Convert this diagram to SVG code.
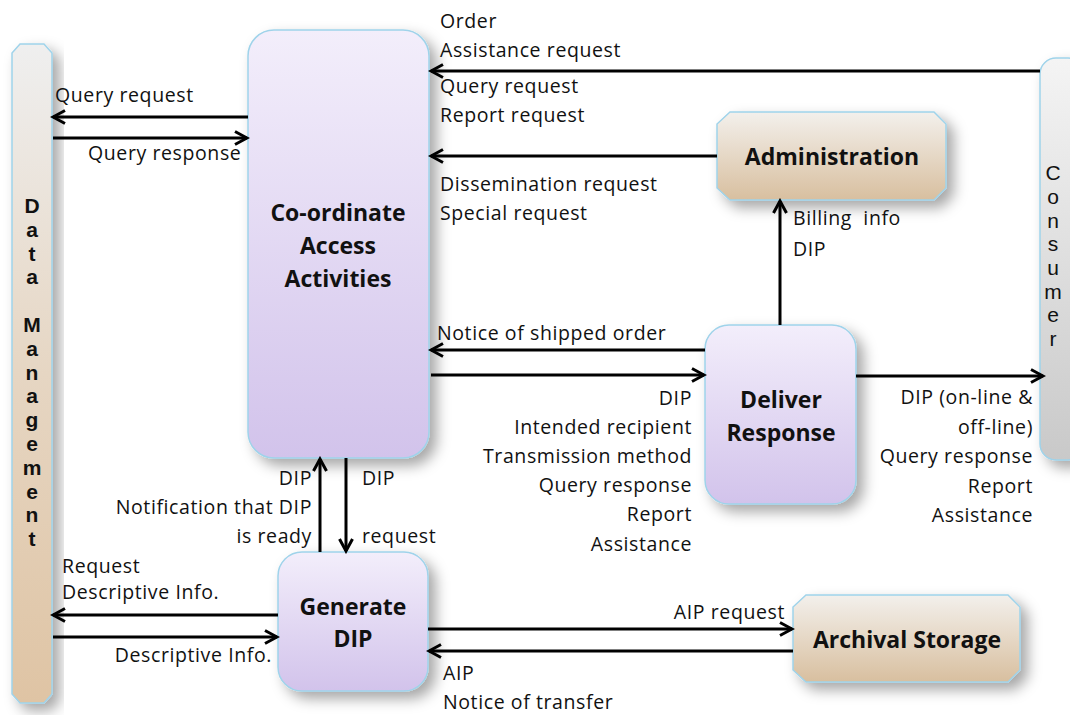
<svg xmlns="http://www.w3.org/2000/svg" width="1070" height="715" viewBox="0 0 1070 715">
<defs>
  <linearGradient id="purple" x1="0" y1="0" x2="0" y2="1">
    <stop offset="0" stop-color="#f3eefb"/>
    <stop offset="1" stop-color="#d2c3eb"/>
  </linearGradient>
  <linearGradient id="tan" x1="0" y1="0" x2="0" y2="1">
    <stop offset="0" stop-color="#f3f0ec"/>
    <stop offset="1" stop-color="#d8bf9f"/>
  </linearGradient>
  <linearGradient id="dm" x1="0" y1="0" x2="0" y2="1">
    <stop offset="0" stop-color="#efefef"/>
    <stop offset="0.5" stop-color="#e6d6c3"/>
    <stop offset="1" stop-color="#dfc4a4"/>
  </linearGradient>
  <linearGradient id="cons" x1="0" y1="0" x2="0" y2="1">
    <stop offset="0" stop-color="#f4f4f4"/>
    <stop offset="1" stop-color="#c9c9c9"/>
  </linearGradient>
  <filter id="sh" x="-30%" y="-30%" width="160%" height="160%">
    <feDropShadow dx="7" dy="7" stdDeviation="7" flood-color="#000" flood-opacity="0.35"/>
  </filter>
  <marker id="ah" markerUnits="userSpaceOnUse" markerWidth="18" markerHeight="18" refX="15" refY="9" orient="auto">
    <path d="M3,2.5 L15,9 L3,15.5" fill="none" stroke="#000" stroke-width="3"/>
  </marker>
  <style>
    .lbl{font-family:"Open Sans","Liberation Sans",sans-serif;font-size:19.5px;letter-spacing:0.6px;fill:#111}
    .r{text-anchor:end}
    .node{font-family:"Open Sans","Liberation Sans",sans-serif;font-size:23px;font-weight:bold;fill:#111;text-anchor:middle}
    .vt{font-family:"Liberation Sans",Arial,sans-serif;font-size:21px;fill:#111;text-anchor:middle}
    .box{stroke:#9fd3ea;stroke-width:1.5;filter:url(#sh)}
    .c{stroke:#000;stroke-width:3;fill:none}
  </style>
</defs>
<rect width="1070" height="715" fill="#fff"/>

<g id="data-management">
  <path class="box" fill="url(#dm)" d="M20,44 L44,44 L52,53 L52,694 L44,703 L20,703 L12,694 L12,53 Z"/>
  <text class="vt" style="font-weight:bold" x="32"><tspan x="32" y="213">D</tspan><tspan x="32" y="237">a</tspan><tspan x="32" y="261">t</tspan><tspan x="32" y="284">a</tspan><tspan x="32" y="332">M</tspan><tspan x="32" y="356">a</tspan><tspan x="32" y="380">n</tspan><tspan x="32" y="403">a</tspan><tspan x="32" y="427">g</tspan><tspan x="32" y="451">e</tspan><tspan x="32" y="475">m</tspan><tspan x="32" y="499">e</tspan><tspan x="32" y="522">n</tspan><tspan x="32" y="546">t</tspan></text>
</g>

<g id="consumer">
  <rect class="box" fill="url(#cons)" x="1040" y="58" width="44" height="402" rx="16"/>
  <text class="vt" x="1053"><tspan x="1053" y="180">C</tspan><tspan x="1053" y="204">o</tspan><tspan x="1053" y="228">n</tspan><tspan x="1053" y="251">s</tspan><tspan x="1053" y="275">u</tspan><tspan x="1053" y="299">m</tspan><tspan x="1053" y="322">e</tspan><tspan x="1053" y="346">r</tspan></text>
</g>

<g id="coordinate-access-activities">
  <rect class="box" fill="url(#purple)" x="248" y="30" width="181" height="428" rx="26"/>
  <text class="node"><tspan x="338" y="221">Co-ordinate</tspan><tspan x="338" y="254">Access</tspan><tspan x="338" y="287">Activities</tspan></text>
</g>

<g id="administration">
  <path class="box" fill="url(#tan)" d="M730,112 L934,112 L946,124 L946,188 L934,200 L730,200 L717,188 L717,124 Z"/>
  <text class="node" x="832" y="165">Administration</text>
</g>

<g id="deliver-response">
  <rect class="box" fill="url(#purple)" x="705" y="325" width="151" height="179" rx="24"/>
  <text class="node"><tspan x="781" y="408">Deliver</tspan><tspan x="781" y="441">Response</tspan></text>
</g>

<g id="generate-dip">
  <rect class="box" fill="url(#purple)" x="278" y="552" width="150" height="139" rx="24"/>
  <text class="node"><tspan x="353" y="615">Generate</tspan><tspan x="353" y="647">DIP</tspan></text>
</g>

<g id="archival-storage">
  <path class="box" fill="url(#tan)" d="M806,595 L1008,595 L1020,607 L1020,670 L1008,682 L806,682 L793,670 L793,607 Z"/>
  <text class="node" x="907" y="648">Archival Storage</text>
</g>

<g id="connectors">
  <line class="c" x1="248" y1="117" x2="53" y2="117" marker-end="url(#ah)"/>
  <line class="c" x1="53" y1="138" x2="247" y2="138" marker-end="url(#ah)"/>
  <line class="c" x1="1040" y1="71" x2="431" y2="71" marker-end="url(#ah)"/>
  <line class="c" x1="717" y1="156" x2="431" y2="156" marker-end="url(#ah)"/>
  <line class="c" x1="780" y1="325" x2="780" y2="201" marker-end="url(#ah)"/>
  <line class="c" x1="705" y1="350" x2="431" y2="350" marker-end="url(#ah)"/>
  <line class="c" x1="431" y1="375" x2="704" y2="375" marker-end="url(#ah)"/>
  <line class="c" x1="856" y1="376" x2="1043" y2="376" marker-end="url(#ah)"/>
  <line class="c" x1="320" y1="552" x2="320" y2="459" marker-end="url(#ah)"/>
  <line class="c" x1="346" y1="458" x2="346" y2="551" marker-end="url(#ah)"/>
  <line class="c" x1="278" y1="615" x2="53" y2="615" marker-end="url(#ah)"/>
  <line class="c" x1="53" y1="637" x2="277" y2="637" marker-end="url(#ah)"/>
  <line class="c" x1="428" y1="629" x2="792" y2="629" marker-end="url(#ah)"/>
  <line class="c" x1="793" y1="651" x2="429" y2="651" marker-end="url(#ah)"/>
</g>

<g id="labels">
  <text class="lbl" x="55" y="102">Query request</text>
  <text class="lbl" x="88" y="160">Query response</text>
  <text class="lbl" x="440" y="28">Order</text>
  <text class="lbl" x="440" y="57">Assistance request</text>
  <text class="lbl" x="440" y="93">Query request</text>
  <text class="lbl" x="440" y="122">Report request</text>
  <text class="lbl" x="440" y="191">Dissemination request</text>
  <text class="lbl" x="440" y="220">Special request</text>
  <text class="lbl" x="793" y="225" style="white-space:pre">Billing  info</text>
  <text class="lbl" x="793" y="256">DIP</text>
  <text class="lbl" x="437" y="340">Notice of shipped order</text>
  <text class="lbl r" x="692" y="405">DIP</text>
  <text class="lbl r" x="692" y="434">Intended recipient</text>
  <text class="lbl r" x="692" y="463">Transmission method</text>
  <text class="lbl r" x="692" y="492">Query response</text>
  <text class="lbl r" x="692" y="521">Report</text>
  <text class="lbl r" x="692" y="551">Assistance</text>
  <text class="lbl r" x="1033" y="404">DIP (on-line &amp;</text>
  <text class="lbl r" x="1033" y="434">off-line)</text>
  <text class="lbl r" x="1033" y="463">Query response</text>
  <text class="lbl r" x="1033" y="493">Report</text>
  <text class="lbl r" x="1033" y="522">Assistance</text>
  <text class="lbl r" x="312" y="485">DIP</text>
  <text class="lbl r" x="312" y="514">Notification that DIP</text>
  <text class="lbl r" x="312" y="543">is ready</text>
  <text class="lbl" x="362" y="485">DIP</text>
  <text class="lbl" x="362" y="543">request</text>
  <text class="lbl" x="62" y="573">Request</text>
  <text class="lbl" x="62" y="599">Descriptive Info.</text>
  <text class="lbl r" x="272" y="662">Descriptive Info.</text>
  <text class="lbl r" x="785" y="619">AIP request</text>
  <text class="lbl" x="443" y="680">AIP</text>
  <text class="lbl" x="443" y="709">Notice of transfer</text>
</g>
</svg>
